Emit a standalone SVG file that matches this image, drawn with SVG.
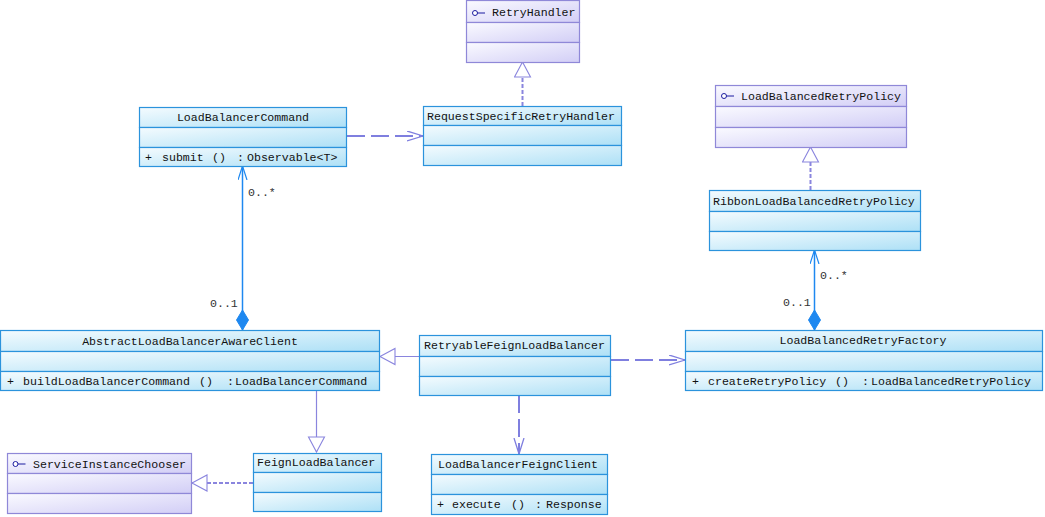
<svg xmlns="http://www.w3.org/2000/svg" width="1045" height="517" viewBox="0 0 1045 517">
<defs>
<linearGradient id="gc" x1="0" y1="0" x2="1" y2="1">
<stop offset="0" stop-color="#f4fbfe"/>
<stop offset="1" stop-color="#ade0f6"/>
</linearGradient>
<linearGradient id="gi" x1="0" y1="0" x2="1" y2="1">
<stop offset="0" stop-color="#fafaff"/>
<stop offset="1" stop-color="#d2cef6"/>
</linearGradient>
<marker id="open" markerUnits="userSpaceOnUse" markerWidth="18" markerHeight="12" refX="16" refY="5.5" orient="auto">
<path d="M0,0.5 L16,5.5 L0,10.5" fill="none" stroke="#7f7fdf" stroke-width="1.3"/>
</marker>
<marker id="openb" markerUnits="userSpaceOnUse" markerWidth="16" markerHeight="12" refX="14" refY="5" orient="auto-start-reverse">
<path d="M0,0.5 L14,5 L0,9.5" fill="none" stroke="#1e88f0" stroke-width="1.2"/>
</marker>
<marker id="tri" markerUnits="userSpaceOnUse" markerWidth="18" markerHeight="20" refX="16" refY="9" orient="auto">
<path d="M16,9 L1,1 L1,17 Z" fill="#ffffff" stroke="#8a85de" stroke-width="1.1"/>
</marker>
<marker id="dia" markerUnits="userSpaceOnUse" markerWidth="22" markerHeight="14" refX="20" refY="6" orient="auto">
<path d="M0,6 L10,0 L20,6 L10,12 Z" fill="#1e88f0" stroke="#1e88f0" stroke-width="1"/>
</marker>
</defs>
<style>
.c{fill:url(#gc);stroke:#2b93dc;stroke-width:1.2}
.i{fill:url(#gi);stroke:#8f88d8;stroke-width:1.2}
text{font-family:"Liberation Mono","DejaVu Sans Mono",monospace;font-size:11.6px;fill:#111}
.m{text-anchor:middle}
.lbl{fill:#333}
.dep{fill:none;stroke:#7f7fdf;stroke-width:2;stroke-dasharray:18 6}
.real{fill:none;stroke:#8a85de;stroke-width:2;stroke-dasharray:4 2}
.gen{fill:none;stroke:#8a85de;stroke-width:1.2}
.comp{fill:none;stroke:#1e88f0;stroke-width:1.5}
.ico{fill:#fff;stroke:#1a1aa0;stroke-width:1}
</style>

<g id="connectors">
<line class="real" x1="522.5" y1="106" x2="522.5" y2="62" marker-end="url(#tri)"/>
<line class="dep" x1="347" y1="136" x2="423" y2="136" marker-end="url(#open)"/>
<line class="real" x1="810.5" y1="190" x2="810.5" y2="147" marker-end="url(#tri)"/>
<line class="comp" x1="242.5" y1="166" x2="242.5" y2="330" marker-start="url(#openb)" marker-end="url(#dia)"/>
<line class="comp" x1="814.5" y1="250" x2="814.5" y2="330" marker-start="url(#openb)" marker-end="url(#dia)"/>
<line class="gen" x1="419" y1="356.5" x2="380" y2="356.5" marker-end="url(#tri)"/>
<line class="dep" x1="611" y1="360" x2="685" y2="360" marker-end="url(#open)"/>
<line class="dep" x1="519" y1="395" x2="519" y2="454" marker-end="url(#open)"/>
<line class="gen" x1="316.5" y1="390" x2="316.5" y2="452" marker-end="url(#tri)"/>
<line class="real" x1="253" y1="483" x2="192" y2="483" marker-end="url(#tri)"/>
<text class="lbl" x="248" y="196">0..*</text>
<text class="lbl" x="210" y="307">0..1</text>
<text class="lbl" x="820" y="279">0..*</text>
<text class="lbl" x="783" y="306">0..1</text>
</g>

<g id="RetryHandler">
<rect class="i" x="466.5" y="0.5" width="113" height="22"/>
<rect class="i" x="466.5" y="22.5" width="113" height="20"/>
<rect class="i" x="466.5" y="42.5" width="113" height="20"/>
<circle class="ico" cx="475" cy="13" r="2.5"/>
<line x1="477.5" y1="13" x2="485" y2="13" stroke="#1a1aa0" stroke-width="1"/>
<text x="492" y="16">RetryHandler</text>
</g>

<g id="LoadBalancerCommand">
<rect class="c" x="139.5" y="107.5" width="207" height="20"/>
<rect class="c" x="139.5" y="127.5" width="207" height="20"/>
<rect class="c" x="139.5" y="147.5" width="207" height="19"/>
<text class="m" x="243" y="121">LoadBalancerCommand</text>
<text y="161"><tspan x="145">+</tspan><tspan x="162">submit</tspan><tspan x="212">()</tspan><tspan x="237">:</tspan><tspan x="247">Observable&lt;T&gt;</tspan></text>
</g>

<g id="RequestSpecificRetryHandler">
<rect class="c" x="423.5" y="106.5" width="198" height="19"/>
<rect class="c" x="423.5" y="125.5" width="198" height="20"/>
<rect class="c" x="423.5" y="145.5" width="198" height="20"/>
<text x="427" y="120">RequestSpecificRetryHandler</text>
</g>

<g id="LoadBalancedRetryPolicy">
<rect class="i" x="715.5" y="85.5" width="191" height="21"/>
<rect class="i" x="715.5" y="106.5" width="191" height="21"/>
<rect class="i" x="715.5" y="127.5" width="191" height="20"/>
<circle class="ico" cx="724" cy="96" r="2.5"/>
<line x1="726.5" y1="96" x2="734" y2="96" stroke="#1a1aa0" stroke-width="1"/>
<text x="741" y="100">LoadBalancedRetryPolicy</text>
</g>

<g id="RibbonLoadBalancedRetryPolicy">
<rect class="c" x="709.5" y="190.5" width="211" height="21"/>
<rect class="c" x="709.5" y="211.5" width="211" height="20"/>
<rect class="c" x="709.5" y="231.5" width="211" height="19"/>
<text x="713" y="205">RibbonLoadBalancedRetryPolicy</text>
</g>

<g id="AbstractLoadBalancerAwareClient">
<rect class="c" x="0.5" y="330.5" width="379" height="21"/>
<rect class="c" x="0.5" y="351.5" width="379" height="20"/>
<rect class="c" x="0.5" y="371.5" width="379" height="19"/>
<text class="m" x="190" y="345">AbstractLoadBalancerAwareClient</text>
<text y="385"><tspan x="7">+</tspan><tspan x="23">buildLoadBalancerCommand</tspan><tspan x="199">()</tspan><tspan x="227">:</tspan><tspan x="235">LoadBalancerCommand</tspan></text>
</g>

<g id="RetryableFeignLoadBalancer">
<rect class="c" x="419.5" y="335.5" width="191" height="21"/>
<rect class="c" x="419.5" y="356.5" width="191" height="20"/>
<rect class="c" x="419.5" y="376.5" width="191" height="19"/>
<text x="424" y="349">RetryableFeignLoadBalancer</text>
</g>

<g id="LoadBalancedRetryFactory">
<rect class="c" x="685.5" y="330.5" width="357" height="21"/>
<rect class="c" x="685.5" y="351.5" width="357" height="20"/>
<rect class="c" x="685.5" y="371.5" width="357" height="19"/>
<text class="m" x="863" y="344">LoadBalancedRetryFactory</text>
<text y="385"><tspan x="692">+</tspan><tspan x="708">createRetryPolicy</tspan><tspan x="835">()</tspan><tspan x="862">:</tspan><tspan x="871">LoadBalancedRetryPolicy</tspan></text>
</g>

<g id="ServiceInstanceChooser">
<rect class="i" x="7.5" y="453.5" width="184" height="20"/>
<rect class="i" x="7.5" y="473.5" width="184" height="20"/>
<rect class="i" x="7.5" y="493.5" width="184" height="20"/>
<circle class="ico" cx="15.5" cy="464" r="2.5"/>
<line x1="18" y1="464" x2="25.5" y2="464" stroke="#1a1aa0" stroke-width="1"/>
<text x="33" y="468">ServiceInstanceChooser</text>
</g>

<g id="FeignLoadBalancer">
<rect class="c" x="253.5" y="453.5" width="128" height="19"/>
<rect class="c" x="253.5" y="472.5" width="128" height="20"/>
<rect class="c" x="253.5" y="492.5" width="128" height="19"/>
<text x="257" y="466">FeignLoadBalancer</text>
</g>

<g id="LoadBalancerFeignClient">
<rect class="c" x="431.5" y="454.5" width="176" height="20"/>
<rect class="c" x="431.5" y="474.5" width="176" height="20"/>
<rect class="c" x="431.5" y="494.5" width="176" height="20"/>
<text x="438" y="468">LoadBalancerFeignClient</text>
<text y="508"><tspan x="437">+</tspan><tspan x="452">execute</tspan><tspan x="511">()</tspan><tspan x="535">:</tspan><tspan x="546">Response</tspan></text>
</g>
</svg>
